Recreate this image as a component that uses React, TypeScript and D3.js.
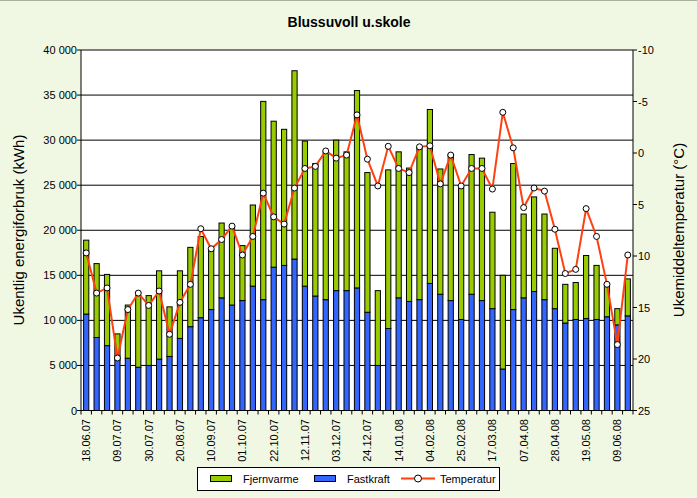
import React from 'react';
import * as d3 from 'd3';

// weekly data, 18.06.07 - 16.06.08
const weeks = [
  '18.06.07', '25.06.07', '02.07.07', '09.07.07', '16.07.07', '23.07.07', '30.07.07', '06.08.07', '13.08.07',
  '20.08.07', '27.08.07', '03.09.07', '10.09.07', '17.09.07', '24.09.07', '01.10.07', '08.10.07', '15.10.07',
  '22.10.07', '29.10.07', '05.11.07', '12.11.07', '19.11.07', '26.11.07', '03.12.07', '10.12.07', '17.12.07',
  '24.12.07', '31.12.07', '07.01.08', '14.01.08', '21.01.08', '28.01.08', '04.02.08', '11.02.08', '18.02.08',
  '25.02.08', '03.03.08', '10.03.08', '17.03.08', '24.03.08', '31.03.08', '07.04.08', '14.04.08', '21.04.08',
  '28.04.08', '05.05.08', '12.05.08', '19.05.08', '26.05.08', '02.06.08', '09.06.08', '16.06.08',
];
const totals = [
  18900, 16300, 15100, 8500, 11700, 12750, 12750, 15500, 11500, 15500, 18100, 19300, 17800, 20800, 20400,
  18300, 22800, 34300, 32100, 31200, 37700, 29900, 27400, 28700, 30000, 28700, 35500, 26400, 13300, 26700,
  28700, 26900, 29200, 33400, 26800, 28400, 24700, 28400, 28000, 22000, 15000, 27400, 21800, 23700, 21800,
  18000, 14000, 14200, 17200, 16100, 14000, 11300, 14600,
];
const fastkraft = [
  10700, 8100, 7200, 5600, 5800, 4800, 5000, 5700, 6000, 8000, 9300, 10300, 11200, 12500, 11700,
  12200, 13800, 12300, 15900, 16100, 16800, 13800, 12700, 12300, 13300, 13300, 13600, 10900, 5000, 9100,
  12500, 12100, 12300, 14100, 12900, 12200, 10100, 12900, 12200, 11300, 4600, 11200, 12500, 13200, 12300,
  11300, 9700, 10100, 10200, 10100, 10400, 9500, 10500,
];
const fjernvarme = totals.map((t, i) => t - fastkraft[i]);
const temperatur = [
  9.7, 13.6, 13.1, 19.9, 15.2, 13.6, 14.8, 13.4, 17.6, 14.5, 12.75, 7.35, 9.3, 8.4, 7.1,
  9.9, 8.1, 3.9, 6.2, 6.9, 3.4, 1.5, 1.3, -0.2, 0.5, 0.2, -3.7, 0.6, 3.2, -0.65,
  1.5, 1.9, -0.6, -0.7, 3.0, 0.2, 3.2, 1.5, 1.5, 3.5, -3.95, -0.5, 5.3, 3.4, 3.7,
  7.4, 11.7, 11.3, 5.4, 8.1, 12.75, 18.6, 9.9,
];
const leftTicks = [0, 5000, 10000, 15000, 20000, 25000, 30000, 35000, 40000];
const rightTicks = [-10, -5, 0, 5, 10, 15, 20, 25];

const W = 697;
const H = 498;
const m = { left: 81, right: 633, top: 50, bottom: 410.5 };
const font = 'Liberation Sans, Arial, sans-serif';
const green = '#99CC00';
const blue = '#3366FF';
const red = '#FF4010';

const fmt = (v: number) => (v >= 1000 ? `${Math.floor(v / 1000)} ${String(v % 1000).padStart(3, '0')}` : `${v}`);

export default function App() {
  const x = d3.scaleBand<string>().domain(weeks).range([m.left, m.right]).paddingInner(0.5).paddingOuter(0.25);
  const step = x.step();
  const y = d3.scaleLinear().domain([0, 40000]).range([m.bottom, m.top]);
  const yT = d3.scaleLinear().domain([-10, 25]).range([m.top, m.bottom]);
  const cx = (w: string) => (x(w) as number) + x.bandwidth() / 2;

  const line = d3
    .line<number>()
    .x((_, i) => cx(weeks[i]))
    .y(d => yT(d));

  return (
    <svg width={W} height={H} style={{ position: 'absolute', left: 0, top: 0 }} fontFamily={font}>
      <rect x={0} y={0} width={W} height={H} fill="#F0F8E4" />
      <line x1={0} x2={W} y1={0.5} y2={0.5} stroke="#A8B0A0" />
      <text x={349} y={27} textAnchor="middle" fontSize={14} fontWeight="bold">
        Blussuvoll u.skole
      </text>

      <rect x={m.left} y={m.top} width={m.right - m.left} height={m.bottom - m.top} fill="#fff" />
      {leftTicks.map(t => (
        <g key={t}>
          <line x1={m.left - 4} x2={m.right} y1={y(t)} y2={y(t)} stroke="#000" strokeWidth={1} />
          <text x={77} y={y(t) + 4} textAnchor="end" fontSize={11}>
            {fmt(t)}
          </text>
        </g>
      ))}
      {rightTicks.map(t => (
        <g key={t}>
          <line x1={m.right} x2={m.right + 4} y1={yT(t)} y2={yT(t)} stroke="#000" />
          <text x={638} y={yT(t) + 4} fontSize={11}>
            {t}
          </text>
        </g>
      ))}

      {weeks.map((w, i) => (
        <g key={w}>
          <rect
            x={x(w)}
            y={y(fastkraft[i])}
            width={x.bandwidth()}
            height={y(0) - y(fastkraft[i])}
            fill={blue}
            stroke="#000"
            strokeWidth={1}
          />
          <rect
            x={x(w)}
            y={y(totals[i])}
            width={x.bandwidth()}
            height={y(fastkraft[i]) - y(totals[i])}
            fill={green}
            stroke="#000"
            strokeWidth={1}
          />
        </g>
      ))}

      <line x1={m.left} x2={m.left} y1={m.top} y2={m.bottom} stroke="#000" />
      <line x1={m.right} x2={m.right} y1={m.top} y2={m.bottom} stroke="#000" />
      <line x1={m.left} x2={m.right} y1={m.bottom} y2={m.bottom} stroke="#000" />
      {d3.range(weeks.length + 1).map(i => (
        <line
          key={i}
          x1={m.left + i * step}
          x2={m.left + i * step}
          y1={m.bottom}
          y2={m.bottom + 4}
          stroke="#000"
        />
      ))}
      {weeks.map((w, i) =>
        i % 3 === 0 ? (
          <text
            key={w}
            transform={`translate(${cx(w) + 4},419) rotate(-90)`}
            textAnchor="end"
            fontSize={11}
          >
            {w}
          </text>
        ) : null
      )}

      <path d={line(temperatur) || ''} fill="none" stroke={red} strokeWidth={2} />
      {temperatur.map((t, i) => (
        <circle key={i} cx={cx(weeks[i])} cy={yT(t)} r={3} fill="#fff" stroke="#000" strokeWidth={1} />
      ))}

      <text transform="translate(24,230) rotate(-90)" textAnchor="middle" fontSize={15}>
        Ukentlig energiforbruk (kWh)
      </text>
      <text transform="translate(684,230) rotate(-90)" textAnchor="middle" fontSize={15}>
        Ukemiddeltemperatur (°C)
      </text>

      <g>
        <rect x={197.5} y={467.5} width={302} height={23} fill="#fff" stroke="#000" />
        <rect x={210.5} y={475.5} width={21} height={6} fill={green} stroke="#000" />
        <text x={243} y={483} fontSize={11}>Fjernvarme</text>
        <rect x={314.5} y={475.5} width={21} height={6} fill={blue} stroke="#000" />
        <text x={347} y={483} fontSize={11}>Fastkraft</text>
        <line x1={401} x2={435} y1={478.5} y2={478.5} stroke={red} strokeWidth={2} />
        <circle cx={418} cy={478.5} r={3.5} fill="#fff" stroke="#000" />
        <text x={440} y={483} fontSize={11}>Temperatur</text>
      </g>
    </svg>
  );
}
